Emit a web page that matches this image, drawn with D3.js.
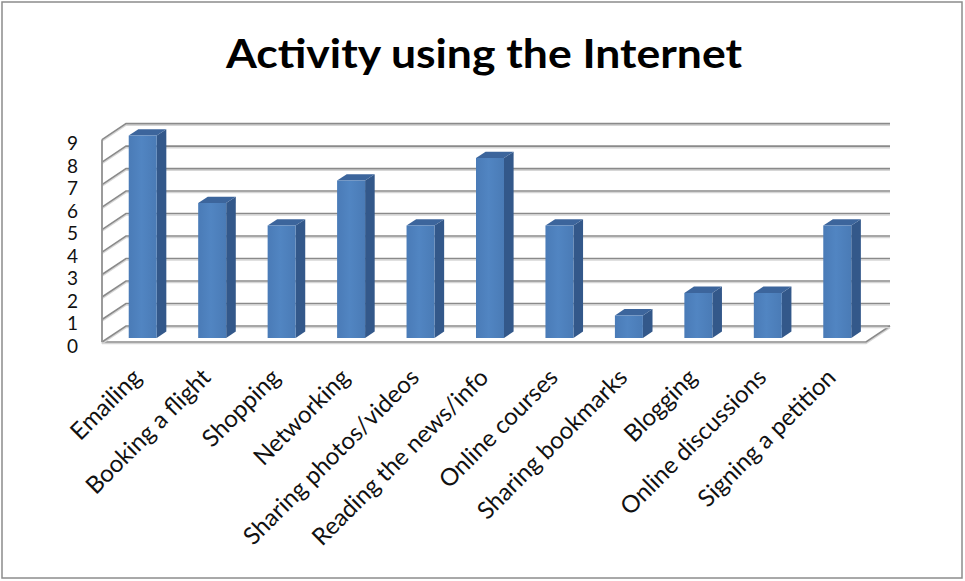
<!DOCTYPE html>
<html lang="en">
<meta charset="UTF-8">
<title>Activity using the Internet</title>
<script src="https://d3js.org/d3.v7.min.js"></script>
<style>
body { margin: 0; background: #fff; overflow: hidden; }
.title { font-family: "Lato", sans-serif; font-weight: bold; font-size: 40px; fill: #000; }
.tick-label { font-family: "Lato", sans-serif; font-size: 19px; fill: #111; }
.cat-label { font-family: "Lato", sans-serif; font-size: 24px; fill: #111; }
.grid { stroke: #8a8a8a; stroke-width: 1.6; fill: none; }
.grid-shadow { stroke: #d6d6d6; stroke-width: 1.4; fill: none; }
</style>
<body>
<svg width="965" height="581"></svg>
<script>
// data
const categories = ['Emailing', 'Booking a flight', 'Shopping', 'Networking',
  'Sharing photos/videos', 'Reading the news/info', 'Online courses',
  'Sharing bookmarks', 'Blogging', 'Online discussions', 'Signing a petition'];
const values = [9, 6, 5, 7, 5, 8, 5, 1, 2, 2, 5];
const yTicks = [0, 1, 2, 3, 4, 5, 6, 7, 8, 9];
const chartTitle = 'Activity using the Internet';

const svg = d3.select('svg');

// frame
svg.append('rect')
  .attr('x', 2).attr('y', 2).attr('width', 960).attr('height', 576)
  .attr('fill', '#fff').attr('stroke', '#8c8c8c').attr('stroke-width', 1.5);

svg.append('text')
  .attr('class', 'title')
  .attr('x', 484).attr('y', 68)
  .attr('text-anchor', 'middle')
  .attr('textLength', 516)
  .attr('lengthAdjust', 'spacingAndGlyphs')
  .text(chartTitle);

// 3d box: front plane and a depth offset to the back wall
const depthX = 24, depthY = 16;
const x = d3.scaleBand().domain(categories).range([102, 866]);
const y = d3.scaleLinear().domain([0, 9]).range([342, 139.6]);
// point on plane at depth z (0 = front, 1 = back)
const P = (px, v, z) => [px + z * depthX, y(v) - z * depthY];

const grid = svg.append('g');
const line = d3.line();

function gl(pts) {
  grid.append('path').attr('class', 'grid-shadow')
    .attr('d', line(pts.map(p => [p[0], p[1] + 1.6])));
  grid.append('path').attr('class', 'grid').attr('d', line(pts));
}

// floor
const x0 = x.range()[0], x1 = x.range()[1];
gl([P(x0, 0, 0), P(x1, 0, 0), P(x1, 0, 1)]);
// back wall gridlines + left wall diagonals
yTicks.forEach(v => {
  gl([P(x0, v, 0), P(x0, v, 1), P(x1, v, 1)]);
});
// left wall front edge
gl([P(x0, 0, 0), P(x0, 9, 0)]);

// y labels
svg.append('g').selectAll('text').data(yTicks).join('text')
  .attr('class', 'tick-label')
  .attr('x', 78)
  .attr('y', d => y(d) + 4)
  .attr('dy', '0.35em')
  .attr('text-anchor', 'end')
  .text(d => d);

const defs = svg.append('defs');
const grad = defs.append('linearGradient').attr('id', 'frontGrad')
  .attr('x1', 0).attr('x2', 1).attr('y1', 0).attr('y2', 0);
grad.append('stop').attr('offset', '0%').attr('stop-color', '#4a7bb7');
grad.append('stop').attr('offset', '45%').attr('stop-color', '#5185c2');
grad.append('stop').attr('offset', '100%').attr('stop-color', '#4a7bb6');

// bars
const barW = 28, zFront = 0.25, zBack = 0.65;
const bars = svg.append('g').selectAll('g').data(categories).join('g');

bars.each(function (c, i) {
  const g = d3.select(this);
  const v = values[i];
  const xl = x(c) + x.bandwidth() / 2 - barW / 2;
  const xr = xl + barW;
  const fl0 = P(xl, 0, zFront), fr0 = P(xr, 0, zFront);
  const fl1 = P(xl, v, zFront), fr1 = P(xr, v, zFront);
  const bl1 = P(xl, v, zBack), br1 = P(xr, v, zBack), br0 = P(xr, 0, zBack);
  // side
  g.append('path')
    .attr('d', line([fr0, fr1, br1, br0]) + 'Z')
    .attr('fill', '#33588a');
  // top
  g.append('path')
    .attr('d', line([fl1, fr1, br1, bl1]) + 'Z')
    .attr('fill', '#3c659c');
  // front
  g.append('path')
    .attr('d', line([fl0, fl1, fr1, fr0]) + 'Z')
    .attr('fill', 'url(#frontGrad)');
});

// category labels
svg.append('g').selectAll('text').data(categories).join('text')
  .attr('class', 'cat-label')
  .attr('text-anchor', 'end')
  .attr('transform', c => {
    const cx = x(c) + x.bandwidth() / 2 + 6;
    return `translate(${cx},379) rotate(-45)`;
  })
  .text(c => c);
</script>
</body>
</html>
